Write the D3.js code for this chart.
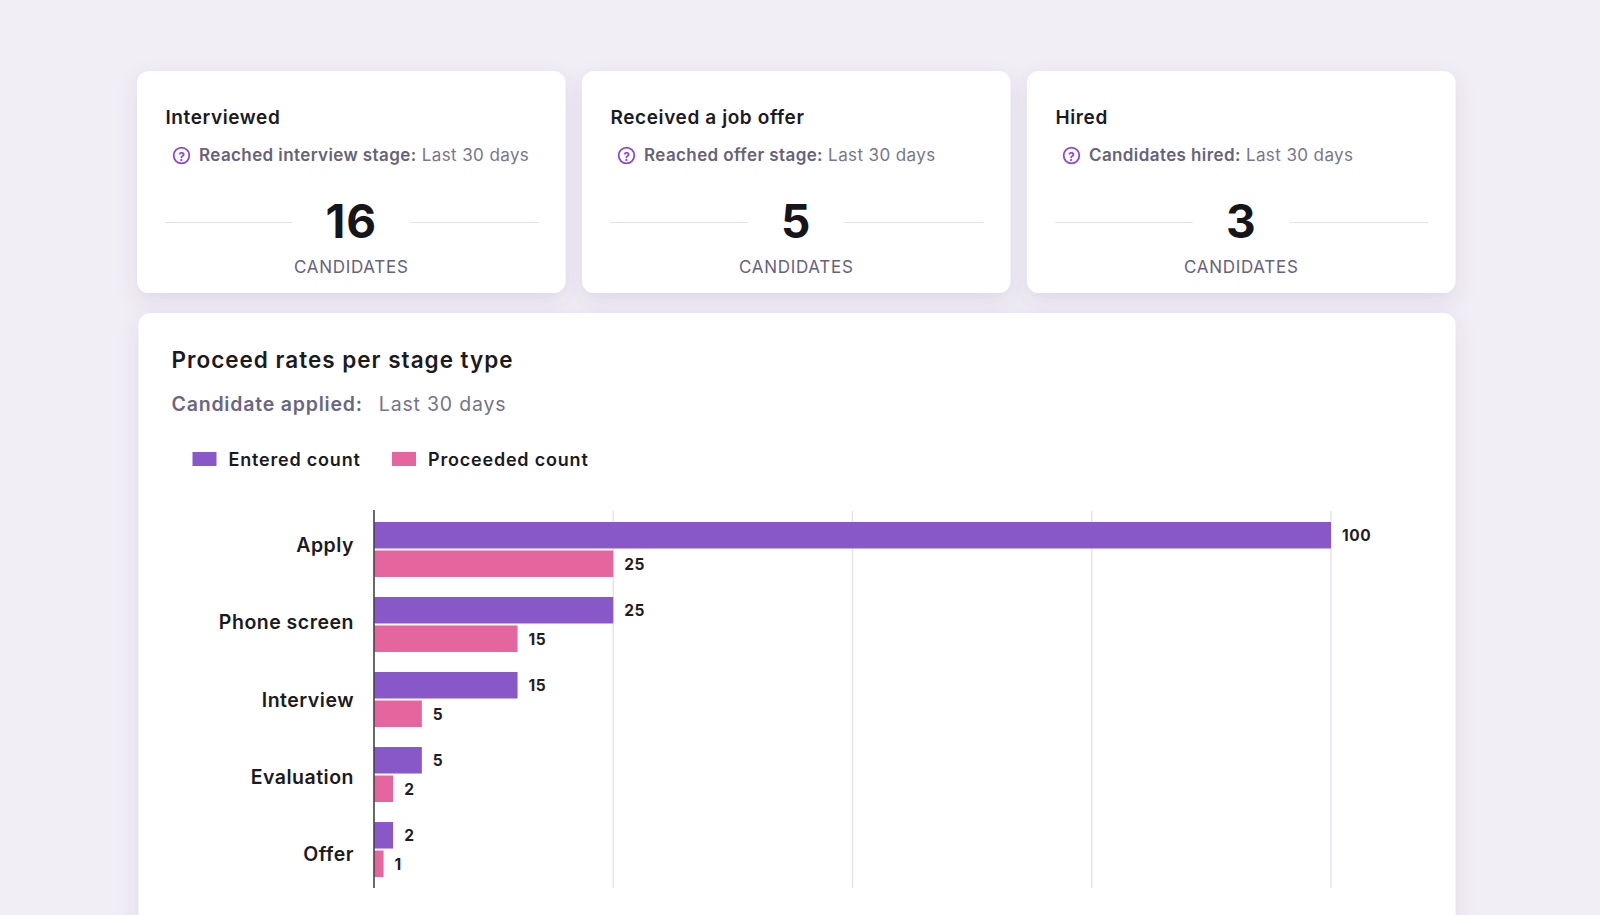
<!DOCTYPE html>
<html>
<head>
<meta charset="utf-8">
<script src="https://cdn.jsdelivr.net/npm/d3@7"></script>
<style>
  html, body { margin: 0; padding: 0; background: #f2eef6; overflow: hidden; }
  svg { display: block; font-family: Inter, "Noto Sans", sans-serif; }
</style>
</head>
<body>
<div id="chart"></div>
<script>

// ---- data ----
var kpiTitles = ["Interviewed", "Received a job offer", "Hired"];
var kpiLabels = ["Reached interview stage:", "Reached offer stage:", "Candidates hired:"];
var kpiPeriod = "Last 30 days";
var kpiValues = [16, 5, 3];
var kpiUnit = "CANDIDATES";

var categories = ["Apply", "Phone screen", "Interview", "Evaluation", "Offer"];
var seriesNames = ["Entered count", "Proceeded count"];
var enteredCount = [100, 25, 15, 5, 2];
var proceededCount = [25, 15, 5, 2, 1];
var xTicks = [0, 25, 50, 75, 100];

var colors = ["#8958c8", "#e5669f"];

// ---- canvas ----
var W = 1600, H = 915;
var svg = d3.select("#chart").append("svg")
  .attr("width", W)
  .attr("height", H);

var defs = svg.append("defs");
var shadow = defs.append("filter")
  .attr("id", "shadow")
  .attr("x", "-10%").attr("y", "-10%")
  .attr("width", "120%").attr("height", "130%");
shadow.append("feDropShadow")
  .attr("dx", 0).attr("dy", 8)
  .attr("stdDeviation", 10)
  .attr("flood-color", "#5b4a80")
  .attr("flood-opacity", 0.13);

/**
 * Draw the three KPI cards along the top.
 */
function drawCards() {
  var cardH = 222, cardY = 71;
  var cardX = d3.scaleBand()
    .domain(d3.range(kpiTitles.length))
    .range([137, 1455.5])
    .paddingInner(0.037);

  var cards = svg.append("g").attr("id", "g_cards")
    .selectAll("g")
    .data(kpiTitles)
    .enter()
    .append("g")
    .attr("transform", function(d, i) { return "translate(" + cardX(i) + "," + cardY + ")"; });

  cards.append("rect")
    .attr("width", cardX.bandwidth())
    .attr("height", cardH)
    .attr("rx", 12)
    .attr("fill", "#ffffff")
    .attr("filter", "url(#shadow)");

  cards.append("text")
    .attr("x", 28.5)
    .attr("y", 53)
    .attr("font-size", 19)
    .attr("font-weight", 600)
    .attr("letter-spacing", 0.6)
    .attr("fill", "#1b1a1f")
    .text(function(d) { return d; });

  // help icon
  cards.append("circle")
    .attr("cx", 44.5)
    .attr("cy", 84.5)
    .attr("r", 7.8)
    .attr("fill", "none")
    .attr("stroke", "#8a45dc")
    .attr("stroke-width", 1.8);
  cards.append("text")
    .attr("x", 44.5)
    .attr("y", 89.5)
    .attr("text-anchor", "middle")
    .attr("font-size", 12)
    .attr("font-weight", 700)
    .attr("fill", "#8a45dc")
    .text("?");

  var sub = cards.append("text")
    .attr("x", 62)
    .attr("y", 90)
    .attr("font-size", 17)
    .attr("letter-spacing", 0.4)
    .attr("fill", "#67627a");
  sub.append("tspan")
    .attr("font-weight", 600)
    .text(function(d, i) { return kpiLabels[i]; });
  sub.append("tspan")
    .attr("fill", "#7a758c")
    .text(" " + kpiPeriod);

  var cx = cardX.bandwidth() / 2;
  cards.each(function(d, i) {
    var g = d3.select(this);
    var num = g.append("text")
      .attr("x", cx)
      .attr("y", 167)
      .attr("text-anchor", "middle")
      .attr("font-size", 46)
      .attr("font-weight", 700)
      .attr("letter-spacing", 1)
      .attr("fill", "#16151a")
      .text(kpiValues[i]);
    var half = num.node().getComputedTextLength() / 2 + 33;

    g.append("line")
      .attr("x1", 28).attr("x2", cx - half)
      .attr("y1", 151.5).attr("y2", 151.5)
      .attr("stroke", "#e4e1ec").attr("stroke-width", 1.2);
    g.append("line")
      .attr("x1", cx + half).attr("x2", cardX.bandwidth() - 27)
      .attr("y1", 151.5).attr("y2", 151.5)
      .attr("stroke", "#e4e1ec").attr("stroke-width", 1.2);
  });

  cards.append("text")
    .attr("x", cx)
    .attr("y", 202)
    .attr("text-anchor", "middle")
    .attr("font-size", 17)
    .attr("letter-spacing", 0.7)
    .attr("fill", "#67627a")
    .text(kpiUnit);
}

/**
 * Draw the bar chart card.
 */
function drawBarCard() {
  var g = svg.append("g").attr("id", "g_barcard");

  g.append("rect")
    .attr("x", 138.5)
    .attr("y", 313)
    .attr("width", 1317)
    .attr("height", 660)
    .attr("rx", 12)
    .attr("fill", "#ffffff")
    .attr("filter", "url(#shadow)");

  g.append("text")
    .attr("x", 171.5)
    .attr("y", 368)
    .attr("font-size", 22.5)
    .attr("font-weight", 600)
    .attr("letter-spacing", 1)
    .attr("fill", "#1b1a1f")
    .text("Proceed rates per stage type");

  var st = g.append("text")
    .attr("x", 171.5)
    .attr("y", 411)
    .attr("font-size", 19.5)
    .attr("letter-spacing", 0.8)
    .attr("fill", "#6b6680");
  st.append("tspan").attr("font-weight", 600).text("Candidate applied:");
  st.append("tspan").attr("dx", 16).attr("fill", "#777289").text("Last 30 days");

  // legend
  var legX = d3.scaleOrdinal().domain(seriesNames).range([192.5, 392]);
  var leg = g.append("g").attr("id", "g_legend")
    .selectAll("g")
    .data(seriesNames)
    .enter()
    .append("g")
    .attr("transform", function(d) { return "translate(" + legX(d) + ",452)"; });
  leg.append("rect")
    .attr("width", 24)
    .attr("height", 14)
    .attr("fill", function(d, i) { return colors[i]; });
  leg.append("text")
    .attr("x", 36)
    .attr("y", 13.5)
    .attr("font-size", 18)
    .attr("font-weight", 600)
    .attr("letter-spacing", 0.8)
    .attr("fill", "#1b1a1f")
    .text(function(d) { return d; });

  // scales
  var x = d3.scaleLinear()
    .domain([0, 100])
    .range([374, 1331]);

  var y0 = d3.scaleBand()
    .domain(categories)
    .range([512, 887])
    .paddingInner(0.267)
    .paddingOuter(0.133);

  var y1 = d3.scaleBand()
    .domain(seriesNames)
    .range([0, y0.bandwidth()])
    .paddingInner(0.07);

  var labelY = d3.scalePoint()
    .domain(categories)
    .range([552, 861]);

  // gridlines
  g.append("g").attr("id", "g_grid")
    .selectAll("line")
    .data(xTicks.slice(1))
    .enter()
    .append("line")
    .attr("x1", function(d) { return x(d); })
    .attr("x2", function(d) { return x(d); })
    .attr("y1", 511)
    .attr("y2", 888)
    .attr("stroke", "#e6e3ec")
    .attr("stroke-width", 1.5);

  var rows = [];
  categories.forEach(function(c, i) {
    rows.push({ cat: c, series: seriesNames[0], val: enteredCount[i], color: colors[0] });
    rows.push({ cat: c, series: seriesNames[1], val: proceededCount[i], color: colors[1] });
  });

  // bars
  g.append("g").attr("id", "g_rects")
    .selectAll("rect")
    .data(rows)
    .enter()
    .append("rect")
    .attr("x", x(0))
    .attr("y", function(d) { return y0(d.cat) + y1(d.series); })
    .attr("width", function(d) { return x(d.val) - x(0); })
    .attr("height", y1.bandwidth())
    .attr("fill", function(d) { return d.color; });

  // value labels
  g.append("g").attr("id", "g_values")
    .selectAll("text")
    .data(rows)
    .enter()
    .append("text")
    .attr("x", function(d) { return x(d.val) + 11; })
    .attr("y", function(d) { return y0(d.cat) + y1(d.series) + y1.bandwidth() / 2 + 6; })
    .attr("font-size", 15.5)
    .attr("font-weight", 700)
    .attr("letter-spacing", 0.5)
    .attr("fill", "#1f1e24")
    .text(function(d) { return d.val; });

  // category labels
  g.append("g").attr("id", "g_cats")
    .selectAll("text")
    .data(categories)
    .enter()
    .append("text")
    .attr("x", 354)
    .attr("y", function(d) { return labelY(d); })
    .attr("text-anchor", "end")
    .attr("font-size", 19.5)
    .attr("font-weight", 600)
    .attr("letter-spacing", 0.5)
    .attr("fill", "#1b1a1f")
    .text(function(d) { return d; });

  // y axis line
  g.append("line")
    .attr("x1", x(0)).attr("x2", x(0))
    .attr("y1", 510).attr("y2", 888)
    .attr("stroke", "#45434c")
    .attr("stroke-width", 1.6);
}

drawCards();
drawBarCard();

</script>
</body>
</html>
